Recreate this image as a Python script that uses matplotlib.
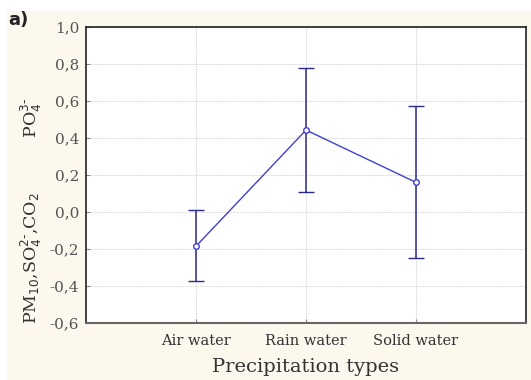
import matplotlib.pyplot as plt
import matplotlib.patches as mpatches
import numpy as np

# Mean factor scores per precipitation type with error bar limits
categories = ["Air water", "Rain water", "Solid water"]
means = [-0.185, 0.443, 0.160]
upper = [0.010, 0.778, 0.572]
lower = [-0.375, 0.107, -0.248]
y_ticks = [-0.6, -0.4, -0.2, 0.0, 0.2, 0.4, 0.6, 0.8, 1.0]

line_color = "#4040d0"
cap_color = "#2a2a8a"
cream = "#fcf8ee"

fig = plt.figure(figsize=(5.31, 3.8), dpi=100, facecolor="white")
fig.patches.append(mpatches.Rectangle((7 / 531, 0), 1, 1 - 11 / 380,
                                      transform=fig.transFigure,
                                      facecolor=cream, edgecolor="none", zorder=-10))

ax = fig.add_axes([86 / 531, 1 - 323 / 380, 440 / 531, 296 / 380])
ax.set_facecolor("white")

x = np.arange(1, len(categories) + 1)
means = np.array(means)
yerr = np.vstack([means - np.array(lower), np.array(upper) - means])

ax.errorbar(x, means, yerr=yerr, fmt="none", ecolor=cap_color, elinewidth=1.1,
            capsize=6, capthick=1.0, zorder=3)
ax.plot(x, means, color=line_color, lw=1.0, zorder=4)
ax.plot(x, means, "o", ms=4, mfc="white", mec=line_color, mew=1.0, zorder=5)

ax.set_xlim(0, 4)
ax.set_ylim(-0.6, 1.0)
ax.set_yticks(y_ticks)
ax.set_yticklabels([f"{v:.1f}".replace(".", ",") for v in y_ticks],
                   family="DejaVu Serif", fontsize=11, color="#555555")
ax.set_xticks(x)
ax.set_xticklabels(categories, family="DejaVu Serif", fontsize=10.5, color="#333333")
ax.tick_params(axis="y", length=3, direction="in", color="#888888", pad=5)
ax.tick_params(axis="x", length=3, direction="in", color="#888888", pad=8)
ax.grid(True, color="#c8c8c8", linestyle=(0, (1, 1)), linewidth=0.6)
ax.set_axisbelow(True)

for side in ["left", "top", "right"]:
    ax.spines[side].set_color("#222222")
    ax.spines[side].set_linewidth(1.2)
ax.spines["bottom"].set_color("#666666")
ax.spines["bottom"].set_linewidth(1.5)

ax.set_xlabel("Precipitation types", family="DejaVu Serif", fontsize=14,
              color="#333333", labelpad=7)

fig.text(31 / 531, 1 - 211 / 380,
         r"PM$_{10}$,SO$_4^{2\text{-}}$,CO$_2$          PO$_4^{3\text{-}}$",
         rotation=90, ha="center", va="center", family="DejaVu Serif",
         fontsize=12.5, color="#333333")
fig.text(8 / 531, 1 - 20 / 380, "a)", ha="left", va="center",
         family="DejaVu Sans", fontweight="bold", fontsize=13, color="#222222")

fig.savefig("out.png", dpi=100, facecolor=fig.get_facecolor())
